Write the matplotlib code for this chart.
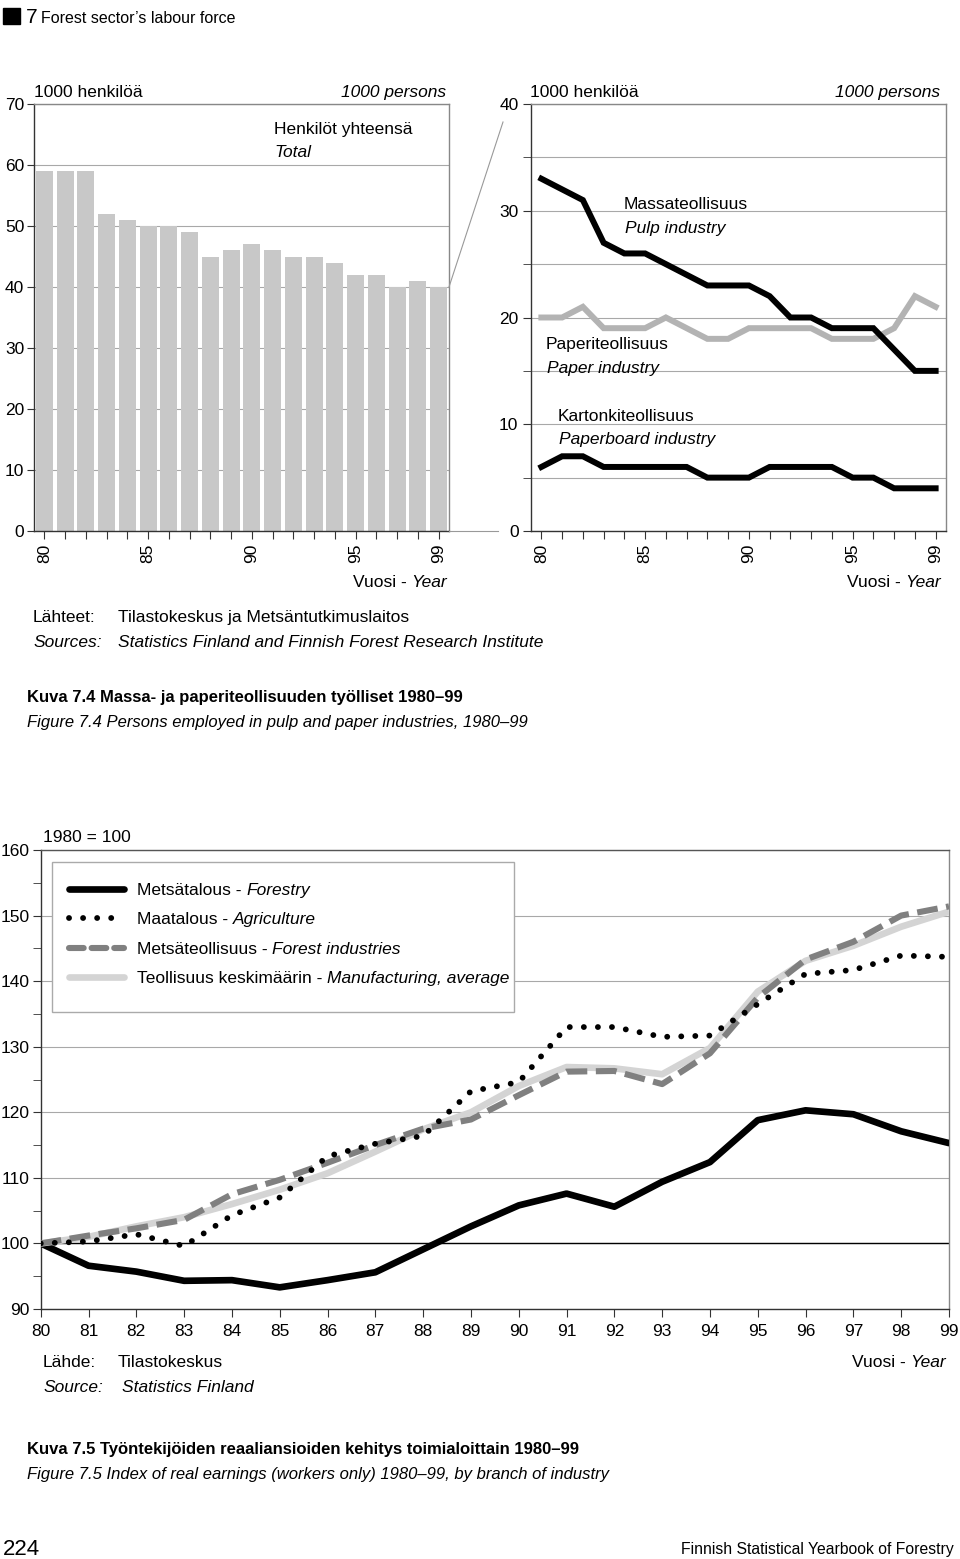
import matplotlib
matplotlib.use("Agg")
import matplotlib.pyplot as plt
from matplotlib.text import Annotation
from matplotlib.lines import Line2D
from matplotlib.patches import Rectangle

plt.rcParams['font.family'] = ['Liberation Sans Narrow', 'Liberation Sans', 'DejaVu Sans']

W, H = 960, 1559

# ---- data ----
years = list(range(1980, 2000))

# Figure 7.4 left: total persons employed (1000 persons)
total = [59, 59, 59, 52, 51, 50, 50, 49, 45, 46, 47, 46, 45, 45, 44, 42, 42, 40, 41, 40]

# Figure 7.4 right: by industry (1000 persons)
pulp = [33, 32, 31, 27, 26, 26, 25, 24, 23, 23, 23, 22, 20, 20, 19, 19, 19, 17, 15, 15]
paper = [20, 20, 21, 19, 19, 19, 20, 19, 18, 18, 19, 19, 19, 19, 18, 18, 18, 19, 22, 21]
paperboard = [6, 7, 7, 6, 6, 6, 6, 6, 5, 5, 5, 6, 6, 6, 6, 5, 5, 4, 4, 4]

year_ticks_top = [1980, 1985, 1990, 1995, 1999]

# Figure 7.5: index of real earnings, 1980 = 100
forestry = [100, 96.6, 95.7, 94.3, 94.4, 93.3, 94.4, 95.6, 99.1, 102.6,
            105.8, 107.6, 105.6, 109.4, 112.4, 118.8, 120.3, 119.7, 117.1, 115.3]
agriculture = [100, 100.3, 101.4, 99.6, 104.3, 107.0, 113.3, 115.2, 116.4, 123.2,
               124.6, 133.0, 133.0, 131.5, 131.7, 136.5, 141.1, 141.7, 143.9, 143.7]
forest_ind = [100, 101.2, 102.3, 103.6, 107.5, 109.7, 112.3, 115.0, 117.5, 118.9,
              122.6, 126.2, 126.3, 124.3, 129.0, 137.5, 143.3, 146.0, 150.0, 151.4]
manufacturing = [100, 101.0, 102.6, 104.0, 106.0, 108.2, 110.7, 114.0, 117.4, 120.0,
                 124.0, 126.9, 126.7, 125.8, 129.8, 138.4, 143.1, 145.4, 148.3, 150.6]
year_labels_bottom = ['80', '81', '82', '83', '84', '85', '86', '87', '88', '89',
                      '90', '91', '92', '93', '94', '95', '96', '97', '98', '99']

legend_fi = ['Metsätalous - ', 'Maatalous - ', 'Metsäteollisuus - ', 'Teollisuus keskimäärin - ']
legend_en = ['Forestry', 'Agriculture', 'Forest industries', 'Manufacturing, average']

TS = 12.5  # base text size
CS = 12    # caption size
DARK = '#333333'
GRIDC = '#a8a8a8'


def fx(x):
    return x / W


def fy(y):
    return 1 - y / H


def px_axes(left, top, right, bottom):
    return fig.add_axes([fx(left), fy(bottom), (right - left) / W, (bottom - top) / H])


def chain(x, y, parts, ha='left', size=TS, weight='normal'):
    # parts: list of (text, style); drawn as one line with mixed styles
    if ha == 'left':
        s, st = parts[0]
        t = fig.text(fx(x), fy(y), s, style=st, size=size, weight=weight, va='baseline', ha='left')
        for s, st in parts[1:]:
            a = Annotation(s, xy=(1, 0), xycoords=t, style=st, size=size, weight=weight,
                           va='bottom', ha='left')
            fig.add_artist(a)
            t = a
    else:
        s, st = parts[-1]
        t = fig.text(fx(x), fy(y), s, style=st, size=size, weight=weight, va='baseline', ha='right')
        for s, st in reversed(parts[:-1]):
            a = Annotation(s, xy=(0, 0), xycoords=t, style=st, size=size, weight=weight,
                           va='bottom', ha='right')
            fig.add_artist(a)
            t = a


fig = plt.figure(figsize=(W / 100, H / 100), dpi=100)

# ---- header ----
fig.add_artist(Rectangle((fx(3), fy(24)), 17 / W, 16 / H, color='black'))
fig.text(fx(26), fy(23), '7', size=15, va='baseline')
fig.text(fx(41), fy(23), 'Forest sector\u2019s labour force', size=11.5, va='baseline')


def style_axes(ax):
    ax.spines['left'].set_color(DARK)
    ax.spines['bottom'].set_color(DARK)
    ax.spines['top'].set_color('#888888')
    ax.spines['right'].set_color('#888888')
    for sp in ax.spines.values():
        sp.set_linewidth(1.0)
    ax.tick_params(which='both', direction='out', color=DARK, labelsize=TS)
    ax.set_axisbelow(True)


# ---- top left: totals ----
ax1 = px_axes(34, 104, 449, 531)
ax1.bar(years, total, width=0.82, color='#c8c8c8', zorder=2)
ax1.set_xlim(1979.5, 1999.5)
ax1.set_ylim(0, 70)
ax1.set_yticks(range(0, 71, 10))
ax1.set_xticks(years)
ax1.set_xticklabels([str(y)[2:] if y in year_ticks_top else '' for y in years], rotation=90)
ax1.yaxis.grid(True, color=GRIDC, lw=0.8)
style_axes(ax1)
ax1.tick_params(axis='y', length=5, pad=2)
ax1.tick_params(axis='x', length=6, pad=3)

chain(34, 97, [('1000 henkilöä', 'normal')])
chain(446, 97, [('1000 persons', 'italic')], ha='right')
chain(274, 134, [('Henkilöt yhteensä', 'normal')])
chain(274, 157, [('Total', 'italic')])
chain(447, 587, [('Vuosi - ', 'normal'), ('Year', 'italic')], ha='right')

# ---- top right: industries ----
ax2 = px_axes(531, 104, 946, 531)
ax2.plot(years, paper, color='#b3b3b3', lw=4.3, solid_joinstyle='miter', zorder=3)
ax2.plot(years, pulp, color='black', lw=4.3, solid_joinstyle='miter', zorder=4)
ax2.plot(years, paperboard, color='black', lw=4.3, solid_joinstyle='miter', zorder=4)
ax2.set_xlim(1979.5, 1999.5)
ax2.set_ylim(0, 40)
ax2.set_yticks(range(0, 41, 10))
ax2.set_yticks(range(5, 40, 10), minor=True)
ax2.set_xticks(years)
ax2.set_xticklabels([str(y)[2:] if y in year_ticks_top else '' for y in years], rotation=90)
ax2.yaxis.grid(True, which='both', color=GRIDC, lw=0.8)
style_axes(ax2)
ax2.tick_params(axis='y', which='both', length=6, pad=3)
ax2.tick_params(axis='x', length=6, pad=3)

chain(530, 97, [('1000 henkilöä', 'normal')])
chain(940, 97, [('1000 persons', 'italic')], ha='right')
chain(624, 209, [('Massateollisuus', 'normal')])
chain(625, 233, [('Pulp industry', 'italic')])
chain(546, 349, [('Paperiteollisuus', 'normal')])
chain(547, 373, [('Paper industry', 'italic')])
chain(558, 421, [('Kartonkiteollisuus', 'normal')])
chain(559, 444, [('Paperboard industry', 'italic')])
chain(941, 587, [('Vuosi - ', 'normal'), ('Year', 'italic')], ha='right')

# connectors between the two panels
fig.add_artist(Line2D([fx(449), fx(503)], [fy(287), fy(122)], color='#999999', lw=0.8))
fig.add_artist(Line2D([fx(449), fx(498)], [fy(531), fy(531)], color='#999999', lw=0.8))

# sources and caption 7.4
chain(33, 622, [('Lähteet:', 'normal')])
chain(118, 622, [('Tilastokeskus ja Metsäntutkimuslaitos', 'normal')])
chain(33, 647, [('Sources:', 'italic')])
chain(118, 647, [('Statistics Finland and Finnish Forest Research Institute', 'italic')])
chain(27, 702, [('Kuva 7.4 Massa- ja paperiteollisuuden työlliset 1980\u201399', 'normal')],
      size=CS, weight='bold')
chain(27, 727, [('Figure 7.4 Persons employed in pulp and paper industries, 1980\u201399', 'italic')],
      size=CS)

# ---- bottom: real earnings index ----
ax3 = px_axes(40.7, 850, 949, 1309)
ax3.axhline(100, color='black', lw=1.0, zorder=2)
ax3.plot(years, forestry, color='black', lw=4.8, solid_capstyle='round', zorder=3)
ax3.plot(years, manufacturing, color='#d4d4d4', lw=4.8, solid_capstyle='butt', zorder=4)
ax3.plot(years, forest_ind, color='#808080', lw=4.4, dashes=(3.4, 1.4), dash_capstyle='butt', zorder=5)
ax3.plot(years, agriculture, color='black', lw=4.2, dashes=(0.01, 2.4), dash_capstyle='round', zorder=6)
ax3.set_xlim(1980, 1999)
ax3.set_ylim(90, 160)
ax3.set_yticks(range(90, 161, 10))
ax3.set_yticks(range(95, 160, 10), minor=True)
ax3.set_xticks(years)
ax3.set_xticklabels(year_labels_bottom)
ax3.yaxis.grid(True, color=GRIDC, lw=0.8)
style_axes(ax3)
ax3.spines['top'].set_color('#555555')
ax3.tick_params(axis='y', which='both', length=6, pad=2)
ax3.tick_params(axis='x', length=6, pad=5)

chain(43, 842, [('1980 = 100', 'normal')])

# legend box
fig.add_artist(Rectangle((fx(52), fy(1012)), (514 - 52) / W, (1012 - 862) / H,
                         facecolor='white', edgecolor='#aaaaaa', lw=1.0))
leg_y = [889, 918, 948, 977]
leg_styles = [
    dict(color='black', lw=4.8, solid_capstyle='round'),
    dict(color='black', lw=4.2, dashes=(0.01, 2.4), dash_capstyle='round'),
    dict(color='#808080', lw=4.4, dashes=(2.4, 1.3), dash_capstyle='round'),
    dict(color='#d4d4d4', lw=4.8, solid_capstyle='round'),
]
for yy, st, fi, en in zip(leg_y, leg_styles, legend_fi, legend_en):
    fig.add_artist(Line2D([fx(69), fx(124)], [fy(yy), fy(yy)], **st))
    chain(137, yy + 6, [(fi, 'normal'), (en, 'italic')])

chain(43, 1367, [('Lähde:', 'normal')])
chain(118, 1367, [('Tilastokeskus', 'normal')])
chain(43, 1392, [('Source:', 'italic')])
chain(122, 1392, [('Statistics Finland', 'italic')])
chain(946, 1367, [('Vuosi - ', 'normal'), ('Year', 'italic')], ha='right')

chain(27, 1454, [('Kuva 7.5 Työntekijöiden reaaliansioiden kehitys toimialoittain 1980\u201399', 'normal')],
      size=CS, weight='bold')
chain(27, 1479, [('Figure 7.5 Index of real earnings (workers only) 1980\u201399, by branch of industry', 'italic')],
      size=CS)

# footer
fig.text(fx(3), fy(1555), '224', size=16, va='baseline')
fig.text(fx(954), fy(1554), 'Finnish Statistical Yearbook of Forestry', size=11.3, va='baseline', ha='right')

fig.savefig('out.png', dpi=100)
